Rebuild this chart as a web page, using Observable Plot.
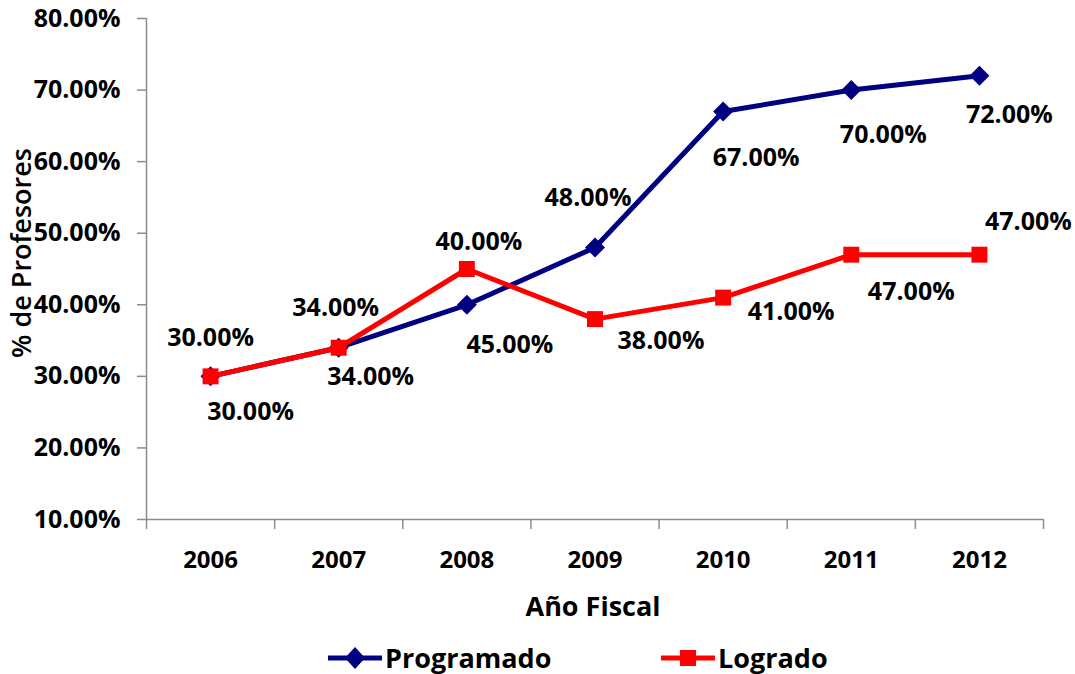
<!DOCTYPE html>
<html>
<head>
<meta charset="utf-8">
<script src="https://cdn.jsdelivr.net/npm/d3@7"></script>
<script src="https://cdn.jsdelivr.net/npm/@observablehq/plot@0.6"></script>
<style>
  html, body { margin: 0; padding: 0; background: #fff; }
  body { width: 1075px; height: 674px; position: relative; overflow: hidden; font-family: "Open Sans", sans-serif; }
  #legend { position: absolute; top: 639px; left: 0; width: 1075px; height: 36px; }
  .item { position: absolute; top: 0; display: flex; align-items: center; font-weight: 700; font-size: 27px; color: #000; }
  .item svg { margin-right: 2px; }
</style>
</head>
<body>
<div id="chart"></div>
<div id="legend"></div>
<script>
const years = [2006, 2007, 2008, 2009, 2010, 2011, 2012];
const programado = [0.30, 0.34, 0.40, 0.48, 0.67, 0.70, 0.72];
const logrado = [0.30, 0.34, 0.45, 0.38, 0.41, 0.47, 0.47];
const yTicks = [0.10, 0.20, 0.30, 0.40, 0.50, 0.60, 0.70, 0.80];
const seriesNames = ["Programado", "Logrado"];
const seriesColors = ["#000080", "#ff0000"];

// label placement (layout, not data)
const progDx = [0, -3, 12, -7, 33, 32, 30];
const progDy = [-38, -40, -63, -50, 46, 45, 39];
const logDx = [40, 32, 43, 66, 68, 60, 49];
const logDy = [36, 29, 76, 22, 14, 37, -33];

const prog = years.map((y, i) => ({year: y, value: programado[i], dx: progDx[i], dy: progDy[i]}));
const logr = years.map((y, i) => ({year: y, value: logrado[i], dx: logDx[i], dy: logDy[i]}));
const boundaries = d3.range(years.length + 1).map(i => years[0] - 0.5 + i);
const fmt = d3.format(".2%");
const FONT = "Open Sans, sans-serif";
const axisColor = "#8c8c8c";

function labels(data) {
  return data.map(d => Plot.text([d], {
    x: "year", y: "value", text: d => fmt(d.value),
    dx: d.dx, dy: d.dy, fontSize: 25, fontWeight: 700, fill: "#000",
    fontFamily: FONT, lineAnchor: "middle", textAnchor: "middle"
  }));
}

const plot = Plot.plot({
  width: 1075,
  height: 630,
  marginLeft: 146,
  marginRight: 32,
  marginTop: 18,
  marginBottom: 111,
  style: {fontFamily: FONT, background: "#fff"},
  x: {type: "linear", domain: [years[0] - 0.5, years[years.length - 1] + 0.5], axis: null},
  y: {domain: [0.10, 0.80], axis: null},
  marks: [
    // axes
    Plot.ruleY([0.10], {stroke: axisColor, strokeWidth: 1.5}),
    Plot.ruleX([boundaries[0]], {stroke: axisColor, strokeWidth: 1.5}),
    Plot.axisX({ticks: boundaries, tickSize: 10, tickFormat: () => "", stroke: axisColor, strokeWidth: 1.5, label: null}),
    Plot.axisY({ticks: yTicks, tickSize: 9, tickPadding: 17, tickFormat: fmt, fontSize: 25, fontWeight: 700, fill: "#000", stroke: axisColor, strokeWidth: 1.5, label: null, anchor: "left", fontFamily: FONT}),
    Plot.text(years, {x: d => d, frameAnchor: "bottom", dy: 41, text: d => String(d), fontSize: 24, fontWeight: 700, fill: "#000", lineAnchor: "middle", fontFamily: FONT, style: "letter-spacing:1.5px"}),
    Plot.text(["Año Fiscal"], {frameAnchor: "bottom", dx: -2, dy: 88, fontSize: 27, fontWeight: 700, fill: "#000", lineAnchor: "middle", fontFamily: FONT}),
    Plot.text(["% de Profesores"], {frameAnchor: "left", dx: -124, dy: -16, rotate: -90, fontSize: 27, fontWeight: 600, fill: "#000", lineAnchor: "middle", textAnchor: "middle", fontFamily: FONT}),
    // series
    Plot.line(prog, {x: "year", y: "value", stroke: seriesColors[0], strokeWidth: 5}),
    Plot.dot(prog, {x: "year", y: "value", symbol: "diamond2", r: 9, fill: seriesColors[0], stroke: null}),
    Plot.line(logr, {x: "year", y: "value", stroke: seriesColors[1], strokeWidth: 5}),
    Plot.dot(logr, {x: "year", y: "value", symbol: "square", r: 9, fill: seriesColors[1], stroke: null}),
    ...labels(prog),
    ...labels(logr)
  ]
});
document.getElementById("chart").appendChild(plot);

// legend
const legend = document.getElementById("legend");
const lefts = [327, 660];
seriesNames.forEach((name, i) => {
  const item = document.createElement("div");
  item.className = "item";
  item.style.left = lefts[i] + "px";
  const shape = i === 0
    ? `<path d="M28,7 L38,18 L28,29 L18,18 Z" fill="${seriesColors[i]}"/>`
    : `<rect x="20" y="10" width="16" height="16" fill="${seriesColors[i]}"/>`;
  item.innerHTML = `<svg width="56" height="36"><line x1="1" x2="55" y1="18" y2="18" stroke="${seriesColors[i]}" stroke-width="5"/>${shape}</svg><span>${name}</span>`;
  legend.appendChild(item);
});
</script>
</body>
</html>
